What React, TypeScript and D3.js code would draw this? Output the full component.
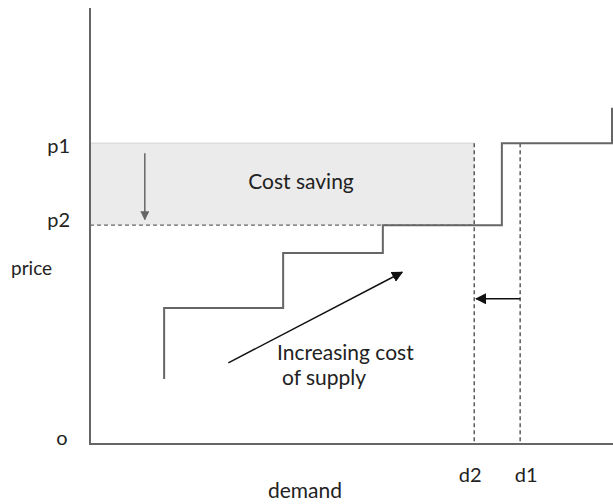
import React from "react";
import * as d3 from "d3";

// supply step curve (demand %, price %)
const stepDemand = [14.2, 14.2, 37, 37, 56.1, 56.1, 78.9, 78.9, 100, 100];
const stepPrice = [14.9, 31.2, 31.2, 43.8, 43.8, 50.2, 50.2, 69, 69, 77.1];

const priceLevels = [69, 50.2]; // p1, p2
const priceLabels = ["p1", "p2"];
const demandLevels = [73.6, 82.4]; // d2, d1
const demandLabels = ["d2", "d1"];

const W = 613;
const H = 504;
const font = "Lato, 'DejaVu Sans', sans-serif";

export default function App() {
  const x = d3.scaleLinear().domain([0, 100]).range([90, 612]);
  const y = d3.scaleLinear().domain([0, 100]).range([444, 8]);

  const pts: [number, number][] = stepDemand.map((d, i) => [x(d), y(stepPrice[i])]);
  const line = d3.line();

  const [p1, p2] = priceLevels;
  const [d2, d1] = demandLevels;

  return (
    <svg width={W} height={H} style={{ position: "absolute", left: 0, top: 0 }}>
      <defs>
        <marker id="headBlack" viewBox="0 0 10 10" refX="9" refY="5" markerWidth="7.5" markerHeight="7.5" orient="auto">
          <path d="M0,0 L10,5 L0,10 z" fill="#111" />
        </marker>
        <marker id="headGray" viewBox="0 0 10 10" refX="9" refY="5" markerWidth="6" markerHeight="6" orient="auto">
          <path d="M0,0 L10,5 L0,10 z" fill="#666" />
        </marker>
      </defs>
      <rect width={W} height={H} fill="#fff" />

      {/* cost saving area */}
      <rect x={x(0)} y={y(p1)} width={x(d2) - x(0)} height={y(p2) - y(p1)} fill="#ebebeb" />
      <line x1={x(0)} x2={x(d2)} y1={y(p1)} y2={y(p1)} stroke="#ddd" strokeWidth={1.5} />
      <line x1={x(0)} x2={x(d2)} y1={y(p2)} y2={y(p2)} stroke="#666" strokeWidth={1.3} strokeDasharray="4,3" />

      {/* demand dashed lines */}
      {demandLevels.map((d, i) => (
        <line key={i} x1={x(d)} x2={x(d)} y1={y(p1)} y2={y(0)} stroke="#333" strokeWidth={1.2} strokeDasharray="4,3" />
      ))}

      {/* axes */}
      <line x1={x(0)} x2={x(0)} y1={y(100)} y2={y(0)} stroke="#666" strokeWidth={2} />
      <line x1={x(0) - 1} x2={W} y1={y(0)} y2={y(0)} stroke="#666" strokeWidth={2} />

      {/* step supply */}
      <path d={line(pts) || ""} fill="none" stroke="#666" strokeWidth={2} />

      {/* arrows */}
      <line x1={x(10.5)} x2={x(10.5)} y1={y(66.7)} y2={y(51.5)} stroke="#666" strokeWidth={1.5} markerEnd="url(#headGray)" />
      <line x1={x(d1)} x2={x(d2) + 2} y1={y(33.3)} y2={y(33.3)} stroke="#111" strokeWidth={1.5} markerEnd="url(#headBlack)" />
      <line x1={x(26.5)} x2={x(59.8)} y1={y(18.6)} y2={y(39.4)} stroke="#111" strokeWidth={1.5} markerEnd="url(#headBlack)" />

      {/* labels */}
      {priceLevels.map((p, i) => (
        <text key={i} x={70} y={i === 0 ? 153 : 227} textAnchor="end" fontSize={20} fontFamily={font} fill="#222">
          {priceLabels[i]}
        </text>
      ))}
      <text x={11} y={275} fontSize={19} fontFamily={font} fill="#222">price</text>
      <text x={62} y={445} textAnchor="middle" fontSize={20} fontFamily={font} fill="#222">o</text>
      {demandLevels.map((d, i) => (
        <text key={i} x={x(d) + (i === 0 ? -4 : 6)} y={482} textAnchor="middle" fontSize={20} fontFamily={font} fill="#222">
          {demandLabels[i]}
        </text>
      ))}
      <text x={305} y={498} textAnchor="middle" fontSize={21} fontFamily={font} fill="#222">demand</text>
      <text x={301} y={189} textAnchor="middle" fontSize={21} fontFamily={font} fill="#222">Cost saving</text>
      <text x={277} y={360} fontSize={21} fontFamily={font} fill="#222">Increasing cost</text>
      <text x={282} y={385} fontSize={21} fontFamily={font} fill="#222">of supply</text>
    </svg>
  );
}
